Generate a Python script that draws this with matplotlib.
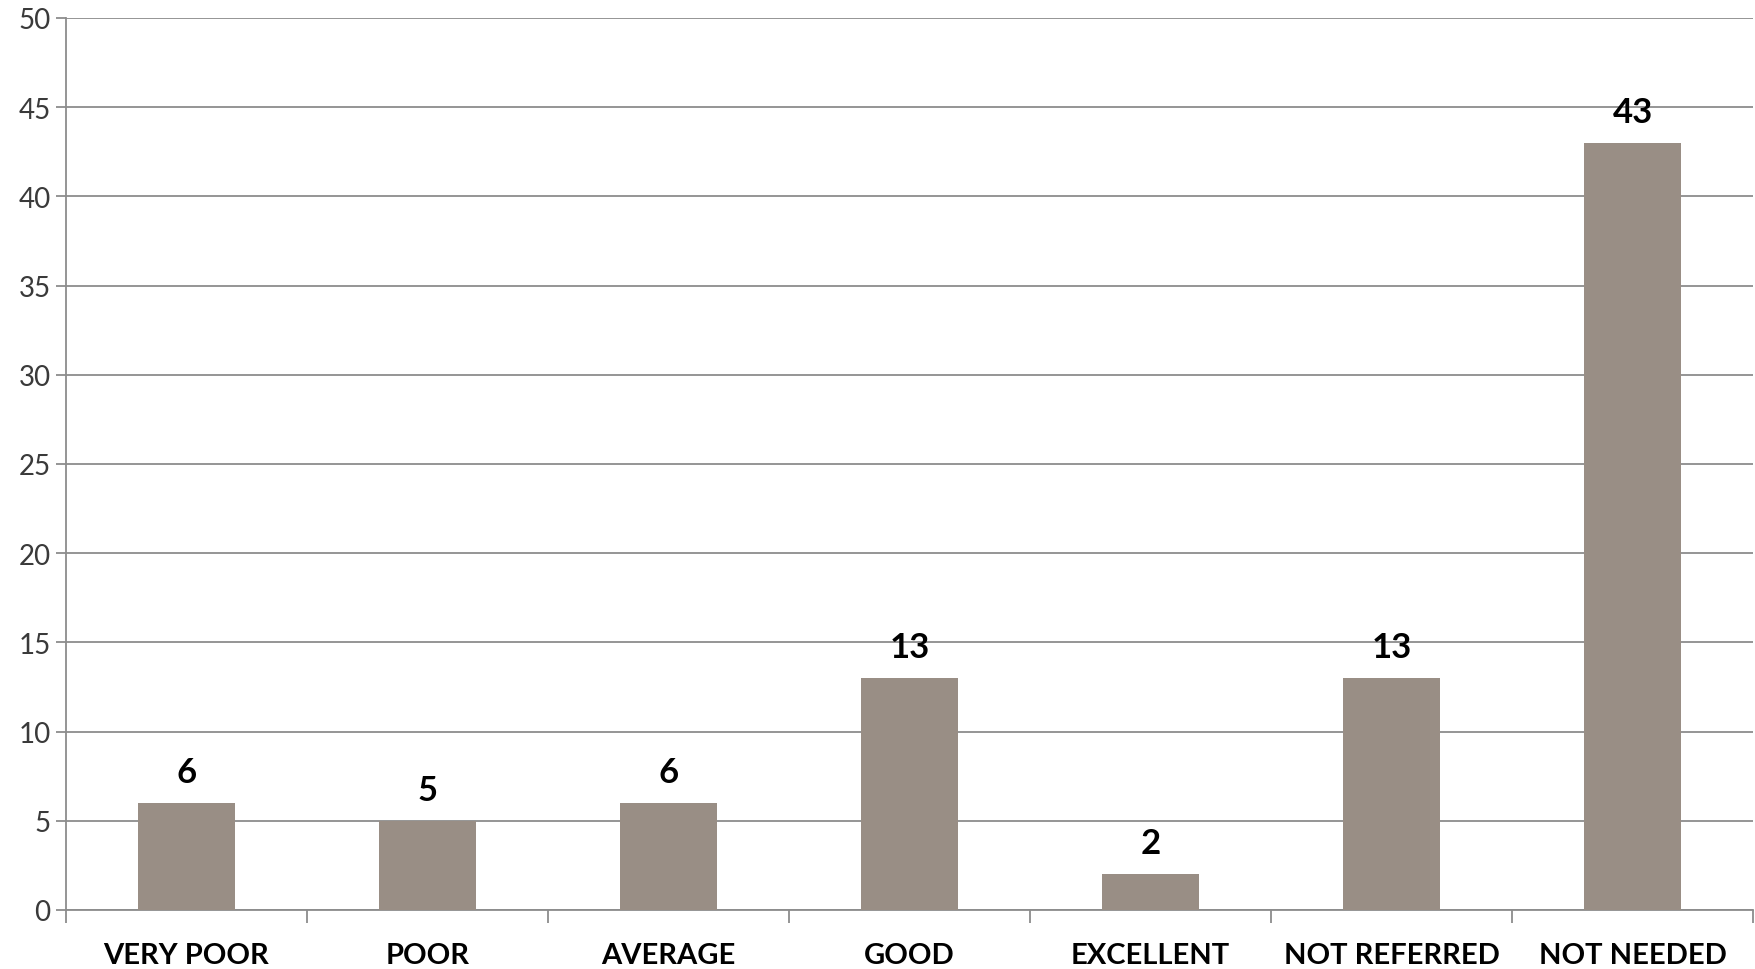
import matplotlib
matplotlib.use("Agg")
import matplotlib.pyplot as plt
import numpy as np

# ==== DATA ====
categories = ["VERY POOR", "POOR", "AVERAGE", "GOOD", "EXCELLENT",
              "NOT REFERRED", "NOT NEEDED"]
counts = [6, 5, 6, 13, 2, 13, 43]
y_ticks = [0, 5, 10, 15, 20, 25, 30, 35, 40, 45, 50]

bar_color = "#998e85"
grid_color = "#8c8c8c"

# ==== PLOT ====
W, H = 1756, 970
fig = plt.figure(figsize=(W / 100, H / 100), dpi=100)
ax = fig.add_axes([66 / W, (H - 911) / H, (1753 - 66) / W, (911 - 19) / H])

x = np.arange(len(categories))
ax.bar(x, counts, width=0.4, color=bar_color, zorder=3)

for xi, v in zip(x, counts):
    ax.annotate(str(v), (xi, v), xytext=(0, 11), textcoords="offset points",
                ha="center", va="bottom", fontsize=25, fontweight="bold",
                family="Lato", color="black")

ax.set_xlim(-0.5, len(categories) - 0.5)
ax.set_ylim(0, 50)
ax.set_yticks(y_ticks)
ax.yaxis.grid(True, color=grid_color, linewidth=1.3, zorder=0)

# category boundaries get the tick marks, centres get the labels
ax.set_xticks(np.arange(len(categories) + 1) - 0.5)
ax.set_xticklabels([])
ax.set_xticks(x, minor=True)
ax.set_xticklabels(categories, minor=True, fontsize=21, fontweight="bold",
                   family="Lato")
ax.tick_params(axis="x", which="major", length=9, width=1.3, color=grid_color)
ax.tick_params(axis="x", which="minor", length=0, pad=23)
ax.tick_params(axis="y", length=7, width=1.3, color=grid_color,
               labelsize=20, labelcolor="#3a3a3a", pad=4)
for lbl in ax.get_yticklabels():
    lbl.set_family("Lato")

for side in ["top", "right"]:
    ax.spines[side].set_visible(False)
for side in ["left", "bottom"]:
    ax.spines[side].set_color(grid_color)
    ax.spines[side].set_linewidth(1.3)

fig.savefig("out.png", dpi=100)
